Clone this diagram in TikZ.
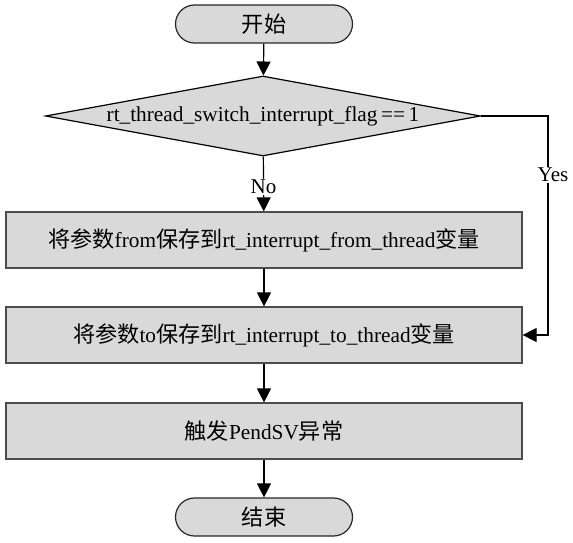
\documentclass[tikz,border=0pt]{standalone}
\usepackage{fontspec}
\setmainfont{Liberation Serif}
\newfontfamily\cjk[Scale=1.04]{Noto Sans CJK SC}
\usetikzlibrary{arrows.meta,shapes.geometric}
\tikzset{
  base/.style={fill=boxgray,line width=1.2pt,inner sep=0pt,font=\fontsize{21.3}{25}\selectfont},
  term/.style={base,draw=black!85,rectangle,rounded corners=19pt,minimum width=177pt,minimum height=38pt},
  decide/.style={base,draw=black,diamond,aspect=5.4,minimum width=435pt,minimum height=80pt},
  proc/.style={base,draw=black!70,rectangle,minimum width=516pt,minimum height=56pt},
  arr/.style={-{Triangle[length=14pt,width=14pt]},line width=1.2pt,draw=black},
  lab/.style={fill=white,inner sep=1pt,font=\fontsize{21}{25}\selectfont}
}
\definecolor{boxgray}{HTML}{D9D9D9}
\begin{document}
\begin{tikzpicture}[x=1pt,y=1pt]
\useasboundingbox (0,0) rectangle (573,-543);
\node[term] (start) at (264,-24) {{\cjk 开始}};
\node[decide] (dec) at (263,-116) {rt\_thread\_switch\_interrupt\_flag\,==\,1};
\node[proc] (p1) at (264,-240) {{\cjk 将参数}from{\cjk 保存到}rt\_interrupt\_from\_thread{\cjk 变量}};
\node[proc] (p2) at (264,-335) {{\cjk 将参数}to{\cjk 保存到}rt\_interrupt\_to\_thread{\cjk 变量}};
\node[proc] (p3) at (264,-431) {{\cjk 触发}PendSV{\cjk 异常}};
\node[term] (stop) at (264,-517) {{\cjk 结束}};
\coordinate (yx) at (548,-200);
\draw[arr] (start) -- (dec);
\draw[arr] (dec) -- node[lab,pos=0.55] (no) {No} (p1);
\draw[arr] (p1) -- (p2);
\draw[arr] (p2) -- (p3);
\draw[arr] (p3) -- (stop);
\draw[arr] (dec.east) -| (yx) |- (p2.east);
\node[lab] (yes) at (553,-175) {Yes};
\end{tikzpicture}
\end{document}
